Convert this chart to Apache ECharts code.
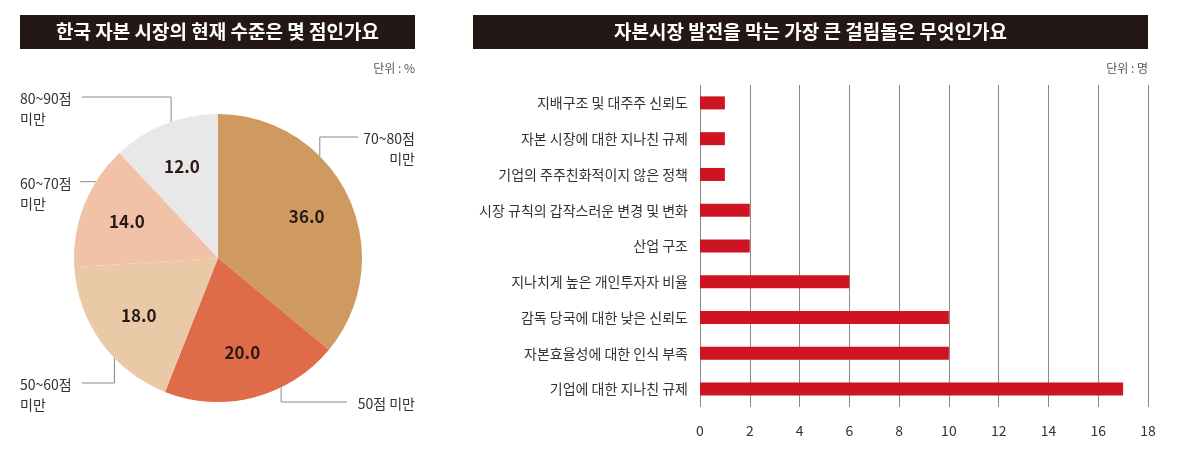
<!DOCTYPE html>
<html>
<head>
<meta charset="utf-8">
<script src="https://cdn.jsdelivr.net/npm/echarts@6/dist/echarts.min.js"></script>
<style>
  html, body { margin: 0; padding: 0; background: #fff; }
  #chart { width: 1200px; height: 457px; }
</style>
</head>
<body>
<div id="chart"></div>
<script>
// 왼쪽 파이 데이터 (단위: %)
const scoreNames = ['70~80점\n미만', '50점 미만', '50~60점\n미만', '60~70점\n미만', '80~90점\n미만']
const scoreValues = [36, 20, 18, 14, 12]
const scoreColors = ['#cf9a60', '#e06b48', '#eacaa6', '#f1c1a8', '#e9e8e8']

// 오른쪽 막대 데이터 (단위: 명)
const reasonNames = [
  '지배구조 및 대주주 신뢰도',
  '자본 시장에 대한 지나친 규제',
  '기업의 주주친화적이지 않은 정책',
  '시장 규칙의 갑작스러운 변경 및 변화',
  '산업 구조',
  '지나치게 높은 개인투자자 비율',
  '감독 당국에 대한 낮은 신뢰도',
  '자본효율성에 대한 인식 부족',
  '기업에 대한 지나친 규제'
]
const reasonValues = [1, 1, 1, 2, 2, 6, 10, 10, 17]

const FONT = '"Noto Sans CJK KR", "Noto Sans", sans-serif'
const pieCenter = [218, 258]
const pieRadius = 144

// 지시선 모양: 파이 가장자리의 각도(위에서 시계방향), 꺾이는 높이, 끝 x
const leaders = [
  { angle: 45, elbowY: 137, endX: 358, side: 'right' },
  { angle: 154, elbowY: 402, endX: 347, side: 'right' },
  { angle: 226, elbowY: 383, endX: 82, side: 'left' },
  { angle: 302, elbowY: null, endX: 80, side: 'left' },
  { angle: 341, elbowY: 97, endX: 82, side: 'left' }
]

const chart = echarts.init(document.getElementById('chart'))

// 제목 막대
const titleBar = (x, w, text) => ({
  type: 'group',
  children: [
    { type: 'rect', shape: { x: x, y: 15, width: w, height: 34 }, style: { fill: '#231815' } },
    {
      type: 'text', x: x + w / 2, y: 32,
      style: { text: text, fill: '#fff', font: 'bold 19px ' + FONT, align: 'center', verticalAlign: 'middle' }
    }
  ]
})

const unitText = (x, text) => ({
  type: 'text', x: x, y: 68,
  style: { text: text, fill: '#555', font: '12px ' + FONT, align: 'right', verticalAlign: 'middle' }
})

const option = {
  backgroundColor: '#fff',
  animation: false,
  textStyle: { fontFamily: FONT },
  graphic: [
    titleBar(20, 395, '한국 자본 시장의 현재 수준은 몇 점인가요'),
    titleBar(473, 675, '자본시장 발전을 막는 가장 큰 걸림돌은 무엇인가요'),
    unitText(415, '단위 : %'),
    unitText(1148, '단위 : 명')
  ],
  grid: { left: 700, right: 52, top: 85, height: 322 },
  xAxis: {
    type: 'value',
    min: 0,
    max: 18,
    interval: 2,
    axisLine: { show: false },
    axisTick: { show: false },
    axisLabel: { color: '#333', fontSize: 14, margin: 17 },
    splitLine: { show: true, lineStyle: { color: '#8a8a8a', width: 1 } }
  },
  yAxis: {
    type: 'category',
    data: reasonNames,
    inverse: true,
    axisLine: { show: false },
    axisTick: { show: false },
    axisLabel: { color: '#333', fontSize: 14, margin: 12 }
  },
  series: [
    {
      type: 'bar',
      data: reasonValues,
      barWidth: 13,
      itemStyle: { color: '#ce1420' },
      silent: true
    },
    {
      // 파이 조각 + 바깥 라벨
      type: 'pie',
      center: pieCenter,
      radius: pieRadius,
      startAngle: 90,
      clockwise: true,
      silent: true,
      data: scoreNames.map((n, i) => ({ name: n, value: scoreValues[i], itemStyle: { color: scoreColors[i] } })),
      label: {
        show: true,
        position: 'outside',
        formatter: '{b}',
        color: '#333',
        fontSize: 14,
        lineHeight: 20,
        overflow: 'none'
      },
      labelLine: { show: true, lineStyle: { color: '#888', width: 1 } },
      labelLayout: (params) => {
        const l = leaders[params.dataIndex]
        const a = l.angle * Math.PI / 180
        const ax = pieCenter[0] + pieRadius * Math.sin(a)
        const ay = pieCenter[1] - pieRadius * Math.cos(a)
        const ey = l.elbowY == null ? ay : l.elbowY
        return {
          x: l.side === 'right' ? 415 : 20,
          y: ey - 8,
          width: 120,
          align: l.side,
          verticalAlign: 'top',
          labelLinePoints: [[ax, ay], [ax, ey], [l.endX, ey]]
        }
      }
    },
    {
      // 조각 안쪽 숫자 라벨
      type: 'pie',
      center: pieCenter,
      radius: 190,
      startAngle: 90,
      clockwise: true,
      silent: true,
      data: scoreNames.map((n, i) => ({ name: n, value: scoreValues[i] })),
      itemStyle: { color: 'rgba(0,0,0,0)' },
      label: {
        show: true,
        position: 'inside',
        formatter: (p) => p.value.toFixed(1),
        color: '#2a1a15',
        fontSize: 17,
        fontWeight: 'bold'
      },
      labelLine: { show: false }
    }
  ]
}

chart.setOption(option)
</script>
</body>
</html>
